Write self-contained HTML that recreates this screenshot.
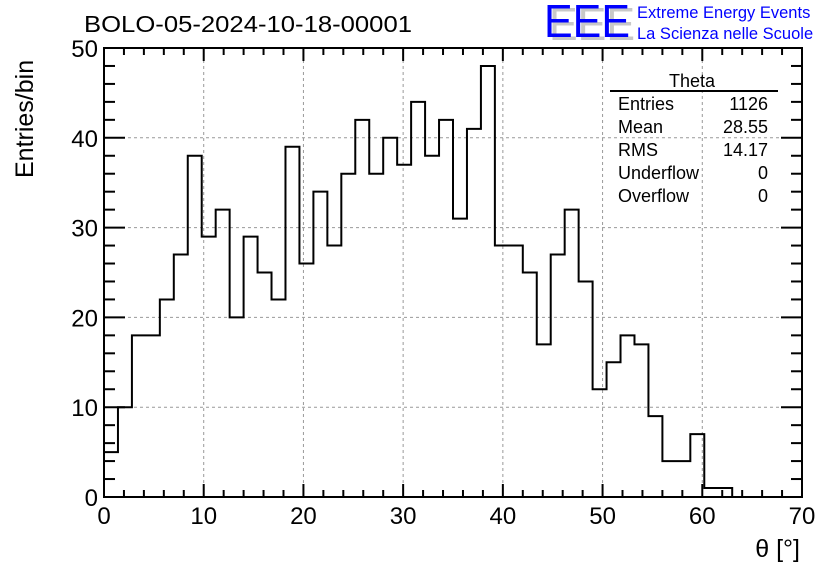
<!DOCTYPE html>
<html><head><meta charset="utf-8"><style>
body{margin:0;background:#fff;}
svg{display:block;font-family:"Liberation Sans",sans-serif;}
</style></head><body>
<svg id="c" width="836" height="572">
<text x="84" y="32" font-size="23" textLength="328" lengthAdjust="spacingAndGlyphs">BOLO-05-2024-10-18-00001</text>
<g>
<text x="549" y="40" font-size="46" fill="#c8c8c8" textLength="86" lengthAdjust="spacingAndGlyphs">EEE</text>
<text x="544" y="37" font-size="46" fill="#0000ff" textLength="86" lengthAdjust="spacingAndGlyphs">EEE</text>
<text x="637" y="18" font-size="16.5" fill="#0000ff">Extreme Energy Events</text>
<text x="637" y="39" font-size="16.5" fill="#0000ff">La Scienza nelle Scuole</text>
</g>
<g id="grid"></g>
<path id="hist" fill="none" stroke="#000" stroke-width="2"/>
<rect x="104" y="48" width="698" height="449" fill="none" stroke="#000" stroke-width="2"/>
<g id="ticks"></g>
<text x="800" y="557" font-size="25" text-anchor="end">θ [°]</text>
<text transform="translate(33,178) rotate(-90)" font-size="25" text-anchor="start">Entries/bin</text>
<g font-size="18">
<text x="692" y="87" text-anchor="middle">Theta</text>
<line x1="610" y1="91" x2="778" y2="91" stroke="#000" stroke-width="2"/>
<text x="618" y="110">Entries</text><text x="768" y="110" text-anchor="end">1126</text>
<text x="618" y="133">Mean</text><text x="768" y="133" text-anchor="end">28.55</text>
<text x="618" y="156">RMS</text><text x="768" y="156" text-anchor="end">14.17</text>
<text x="618" y="179">Underflow</text><text x="768" y="179" text-anchor="end">0</text>
<text x="618" y="202">Overflow</text><text x="768" y="202" text-anchor="end">0</text>
</g>
</svg>
<script>
const counts=[5,10,18,18,22,27,38,29,32,20,29,25,22,39,26,34,28,36,42,36,40,37,44,38,42,31,41,48,28,28,25,17,27,32,24,12,15,18,17,9,4,4,7,1,1];
const binWidth=[1.4];
const xTicks=[0,10,20,30,40,50,60,70];
const yTicks=[0,10,20,30,40,50];
const X=v=>104+v*(698/70), Y=v=>497-v*(449/50);
const NS="http://www.w3.org/2000/svg";
const svg=document.getElementById('c'),grid=document.getElementById('grid'),tk=document.getElementById('ticks');
function mk(tag,attrs,parent){const e=document.createElementNS(NS,tag);for(const k in attrs)e.setAttribute(k,attrs[k]);parent.appendChild(e);return e;}
xTicks.forEach(v=>{
 if(v>0&&v<70){const g=mk('line',{x1:X(v),x2:X(v),y1:48,y2:497,stroke:'#999','stroke-dasharray':'3,3'},grid);
 
 }
 const t=mk('text',{x:X(v),y:524,'font-size':24,'text-anchor':'middle'},tk);t.textContent=v;
 
 
});
yTicks.forEach(v=>{
 if(v>0&&v<50){const g=mk('line',{x1:104,x2:802,y1:Y(v),y2:Y(v),stroke:'#999','stroke-dasharray':'3,3'},grid);
 
 }
 const t=mk('text',{x:98,y:Y(v)+9,'font-size':24,'text-anchor':'end'},tk);t.textContent=v;
 
 
});
for(let v=0;v<=70;v+=2){const L=v%10===0?13:7;
 mk('line',{x1:X(v),x2:X(v),y1:497,y2:497-L,stroke:'#000','stroke-width':2},tk);
 mk('line',{x1:X(v),x2:X(v),y1:48,y2:48+L,stroke:'#000','stroke-width':2},tk);}
for(let v=0;v<=50;v+=2){const L=v%10===0?21:11;
 mk('line',{x1:104,x2:104+L,y1:Y(v),y2:Y(v),stroke:'#000','stroke-width':2},tk);
 mk('line',{x1:802,x2:802-L,y1:Y(v),y2:Y(v),stroke:'#000','stroke-width':2},tk);}
let d='M'+X(0)+','+Y(0);
counts.forEach((c,i)=>{d+=' L'+X(i*binWidth[0])+','+Y(c)+' L'+X((i+1)*binWidth[0])+','+Y(c);});
d+=' L'+X(counts.length*binWidth[0])+','+Y(0);
document.getElementById('hist').setAttribute('d',d);
</script>
</body></html>
